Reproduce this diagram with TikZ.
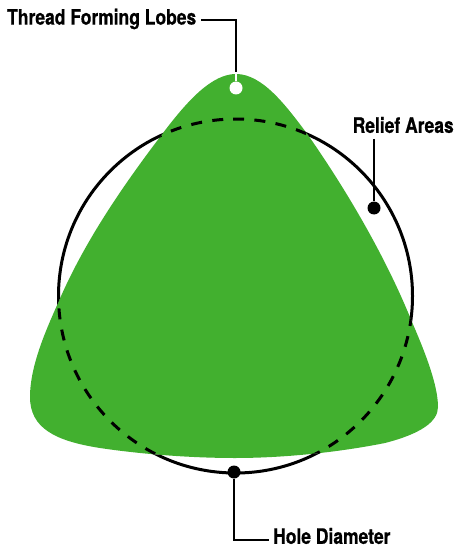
\documentclass[tikz,border=0pt]{standalone}
\usepackage{fontspec}
\setmainfont{TeX Gyre Heros}
\newfontfamily\labfont[FakeStretch=0.82,FakeBold=0.6]{TeX Gyre Heros Bold}
\definecolor{lobegreen}{HTML}{42B02F}
\tikzset{x=1pt,y=-1pt,
  lab/.style={inner sep=0pt,font=\labfont\fontsize{21.3}{24}\selectfont,text=black},
  blackdot/.style={circle,fill=black,inner sep=0pt,minimum size=13pt},
  whitedot/.style={circle,fill=white,inner sep=0pt,minimum size=13pt},
  leader/.style={line width=2.4pt,black},
  ring/.style={line width=3pt,black}}
\def\lobepath{(236,74) .. controls (262,74) and (285,104) .. (308,135)
  .. controls (345,188) and (385,255) .. (412,322)
  .. controls (425,352) and (438,385) .. (438,407)
  .. controls (438,422) and (420,434) .. (385,443)
  .. controls (340,452) and (285,458) .. (235,458)
  .. controls (190,458) and (140,454) .. (100,448)
  .. controls (55,441) and (30,428) .. (30,397)
  .. controls (30,365) and (47,328) .. (58,303)
  .. controls (85,240) and (125,183) .. (163,133)
  .. controls (188,100) and (212,74) .. (236,74) -- cycle}
\begin{document}
\begin{tikzpicture}
\useasboundingbox (0,0) rectangle (454,548);
\fill[lobegreen] \lobepath;
\coordinate (ctr) at (235.5,296);
\begin{scope}
  \clip \lobepath;
  \draw[ring,dash pattern=on 11pt off 10.4pt] (ctr) ++(-90.8:177) arc[start angle=-90.8,delta angle=360,radius=177];
\end{scope}
\begin{scope}[even odd rule]
  \clip (0,0) rectangle (454,548) \lobepath;
  \draw[ring] (ctr) circle[radius=177];
\end{scope}
\node[lab,anchor=west] (tl) at (7,19) {Thread Forming Lobes};
\node[lab,anchor=west] (ra) at (352.5,125) {Relief Areas};
\node[lab,anchor=west] (hd) at (273,536) {Hole Diameter};
\node[whitedot] (d1) at (236,88) {};
\node[blackdot] (d2) at (374,208) {};
\node[blackdot] (d3) at (234,472) {};
\coordinate (e1) at (201,20);
\coordinate (c1) at (236,20);
\coordinate (m1) at (236,72);
\coordinate (e2) at (374,139);
\coordinate (e3) at (269,540);
\coordinate (c3) at (234,540);
\draw[leader,line join=miter] (e1) -- (c1) -- (m1);
\draw[line width=2.4pt,white] (m1) -- (d1);
\draw[leader] (e2) -- (d2);
\draw[leader,line join=miter] (d3) -- (c3) -- (e3);
\end{tikzpicture}
\end{document}
